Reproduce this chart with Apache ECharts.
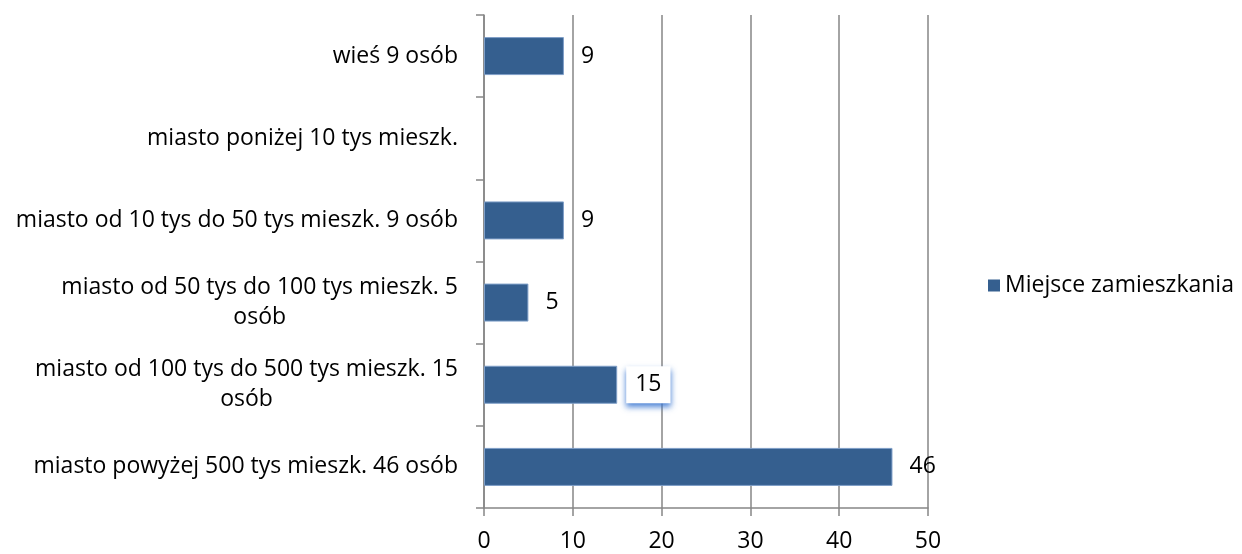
<!DOCTYPE html>
<html>
<head>
<meta charset="utf-8">
<script src="https://cdn.jsdelivr.net/npm/echarts@6/dist/echarts.min.js"></script>
<style>
  html, body { margin: 0; padding: 0; background: #fff; }
  #main { width: 1242px; height: 554px; }
</style>
</head>
<body>
<div id="main"></div>
<script>
// categories from bottom to top
const categories = [
    'miasto powyżej 500 tys mieszk. 46 osób',
    'miasto od 100 tys do 500 tys mieszk. 15\nosób',
    'miasto od 50 tys do 100 tys mieszk. 5\nosób',
    'miasto od 10 tys do 50 tys mieszk. 9 osób',
    'miasto poniżej 10 tys mieszk.',
    'wieś 9 osób'
];
const values = [46, 15, 5, 9, null, 9];
const seriesName = 'Miejsce zamieszkania';
const xTicks = [0, 10, 20, 30, 40, 50];

const font = 'Open Sans';
const fs = 23;
const barColor = '#355f8f';

let chart = echarts.init(document.getElementById('main'));

let barData = values.map(function (v) {
    if (v === 15) {
        // the highlighted label box as in the source chart
        return {
            value: v,
            label: {
                backgroundColor: '#fff',
                padding: [8, 9, 6, 9],
                shadowColor: 'rgba(60,120,210,0.9)',
                shadowBlur: 6,
                shadowOffsetY: 4,
                distance: 9
            }
        };
    }
    return v;
});

let option = {
    animation: false,
    textStyle: { fontFamily: font },
    grid: { left: 484, right: 314, top: 15, bottom: 46, containLabel: false },
    legend: {
        data: [seriesName],
        orient: 'vertical',
        left: 983,
        top: 269,
        icon: 'rect',
        itemWidth: 12,
        itemHeight: 12,
        itemGap: 6,
        itemStyle: { borderWidth: 0 },
        textStyle: { fontSize: fs, color: '#000', fontFamily: font }
    },
    xAxis: {
        type: 'value',
        min: xTicks[0],
        max: xTicks[xTicks.length - 1],
        interval: 10,
        axisLine: { show: true, lineStyle: { color: '#868686', width: 1.5 } },
        axisTick: { show: true, length: 8, lineStyle: { color: '#868686', width: 1.5 } },
        axisLabel: { fontSize: fs, color: '#000', margin: 22 },
        splitLine: { show: true, lineStyle: { color: '#868686', width: 1.5 } }
    },
    yAxis: {
        type: 'category',
        data: categories,
        axisLine: { show: true, lineStyle: { color: '#868686', width: 1.5 } },
        axisTick: { show: true, length: 8, alignWithLabel: false, lineStyle: { color: '#868686', width: 1.5 } },
        axisLabel: {
            fontSize: fs,
            color: '#000',
            margin: 26,
            lineHeight: 30,
            formatter: function (val) {
                return val.split('\n').map(function (l) { return '{c|' + l + '}'; }).join('\n');
            },
            rich: {
                c: { align: 'center', fontSize: fs, color: '#000', fontFamily: font, lineHeight: 30 }
            }
        }
    },
    series: [
        {
            name: seriesName,
            type: 'bar',
            data: barData,
            barWidth: 38,
            itemStyle: { color: barColor, borderColor: '#7f9fc8', borderWidth: 1 },
            label: {
                show: true,
                position: 'right',
                distance: 17,
                fontSize: fs,
                color: '#000',
                fontFamily: font
            }
        }
    ]
};

chart.setOption(option);
</script>
</body>
</html>
